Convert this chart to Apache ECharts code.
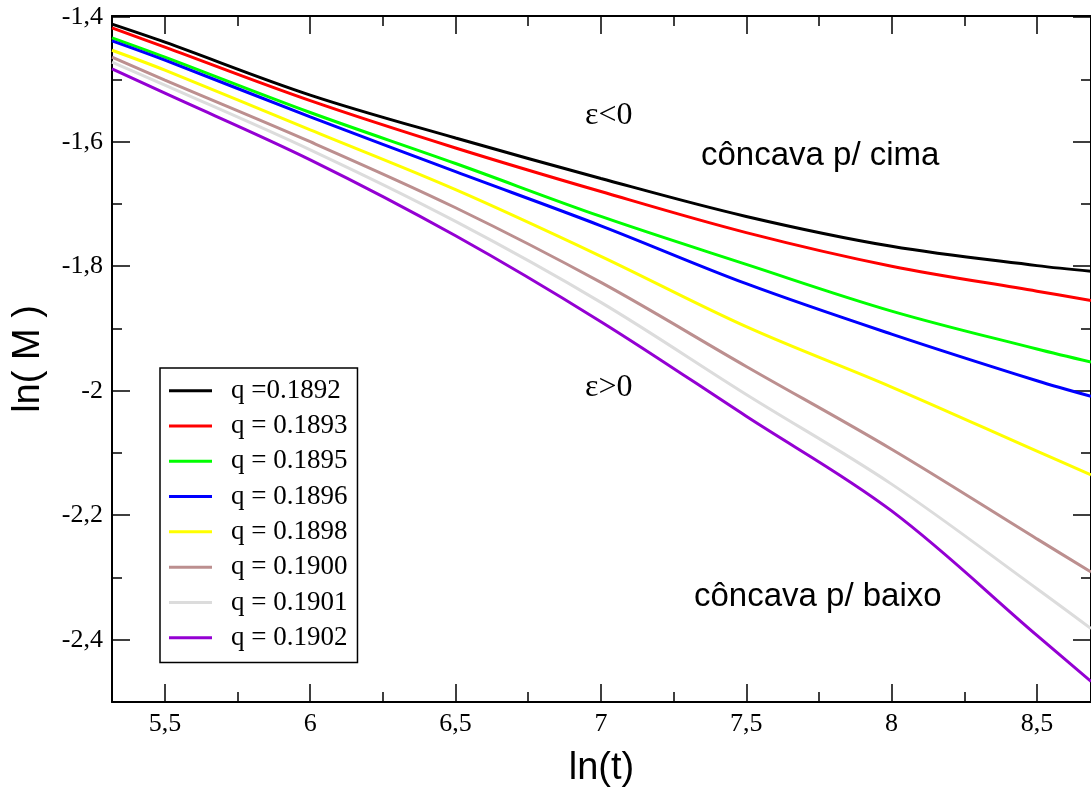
<!DOCTYPE html>
<html>
<head>
<meta charset="utf-8">
<script src="https://cdn.jsdelivr.net/npm/echarts@6/dist/echarts.min.js"></script>
<style>html,body{margin:0;padding:0;background:#fff;}#c{width:1091px;height:793px;}</style>
</head>
<body>
<div id="c"></div>
<script>
// ---- data ----
var lnT = [5.318, 5.5, 6, 6.5, 7, 7.5, 8, 8.5, 8.686];
var q1892 = [-1.411, -1.440, -1.525, -1.594, -1.659, -1.720, -1.768, -1.799, -1.808];
var q1893 = [-1.417, -1.448, -1.534, -1.610, -1.680, -1.746, -1.800, -1.840, -1.855];
var q1895 = [-1.433, -1.464, -1.553, -1.635, -1.720, -1.797, -1.872, -1.933, -1.954];
var q1896 = [-1.438, -1.469, -1.560, -1.648, -1.735, -1.828, -1.909, -1.984, -2.009];
var q1898 = [-1.453, -1.485, -1.581, -1.677, -1.784, -1.897, -1.994, -2.097, -2.135];
var q1900 = [-1.464, -1.501, -1.600, -1.706, -1.826, -1.961, -2.094, -2.238, -2.291];
var q1901 = [-1.472, -1.509, -1.613, -1.728, -1.858, -2.006, -2.150, -2.318, -2.382];
var q1902 = [-1.483, -1.522, -1.629, -1.751, -1.889, -2.041, -2.193, -2.393, -2.467];
var seriesNames = ['q =0.1892', 'q = 0.1893', 'q = 0.1895', 'q = 0.1896', 'q = 0.1898', 'q = 0.1900', 'q = 0.1901', 'q = 0.1902'];
var xMajor = [5.5, 6, 6.5, 7, 7.5, 8, 8.5];
var xMinor = [5.75, 6.25, 6.75, 7.25, 7.75, 8.25];
var yMajor = [-2.4, -2.2, -2, -1.8, -1.6, -1.4];
var yMinor = [-2.5, -2.3, -2.1, -1.9, -1.7, -1.5];
// ---- chart ----
var allY = [q1892, q1893, q1895, q1896, q1898, q1900, q1901, q1902];
var colors = ['#000000', '#ff0000', '#00ff00', '#0000ff', '#ffff00', '#bc8f8f', '#dcdcdc', '#9400d3'];
var XMIN = 5.318, XMAX = 8.686, YMIN = -2.5, YMAX = -1.398;
var serif = 'Liberation Serif', sans = 'Liberation Sans';
function fmt(v){ return String(v).replace('.', ','); }
function mkX(pos, vals, len, labels, line, name){
  var a = {type:'value', position:pos, min:XMIN, max:XMAX, splitLine:{show:false},
    axisLine:{show:line, onZero:false, lineStyle:{color:'#000', width:2}},
    axisTick:{show:true, inside:true, length:len, customValues:vals, lineStyle:{color:'#000', width:1.5}},
    axisLabel:{show:labels, customValues:vals, formatter:fmt, fontFamily:serif, fontSize:26, color:'#000', margin:9}};
  if(name){ a.name = name; a.nameLocation='middle'; a.nameGap=48; a.nameTextStyle={fontFamily:sans, fontSize:38, color:'#000'}; }
  return a;
}
function mkY(pos, vals, len, labels, line, name){
  var a = {type:'value', position:pos, min:YMIN, max:YMAX, splitLine:{show:false},
    axisLine:{show:line, onZero:false, lineStyle:{color:'#000', width:2}},
    axisTick:{show:true, inside:true, length:len, customValues:vals, lineStyle:{color:'#000', width:1.5}},
    axisLabel:{show:labels, customValues:vals, formatter:fmt, fontFamily:serif, fontSize:26, color:'#000', margin:9}};
  if(name){ a.name = name; a.nameLocation='middle'; a.nameGap=64; a.nameRotate=90; a.nameTextStyle={fontFamily:sans, fontSize:38, color:'#000'}; }
  return a;
}
var series = allY.map(function(ys, i){
  return {name:seriesNames[i], type:'line', xAxisIndex:0, yAxisIndex:0, symbol:'none', smooth:0.35,
    data: lnT.map(function(x, j){ return [x, ys[j]]; }),
    lineStyle:{color:colors[i], width:3}, itemStyle:{color:colors[i]}, z:2};
});
var chart = echarts.init(document.getElementById('c'), null, {renderer:'canvas'});
chart.setOption({
  animation:false,
  backgroundColor:'#fff',
  grid:{left:112, top:16, right:0, bottom:91},
  xAxis:[mkX('bottom', xMajor, 18, true, true, 'ln(t)'), mkX('bottom', xMinor, 10, false, false),
         mkX('top', xMajor, 18, false, true), mkX('top', xMinor, 10, false, false)],
  yAxis:[mkY('left', yMajor, 18, true, true, 'ln( M )'), mkY('left', yMinor, 10, false, false),
         mkY('right', yMajor, 18, false, true), mkY('right', yMinor, 10, false, false)],
  legend:{orient:'vertical', left:160, top:368, icon:'rect', itemWidth:43, itemHeight:3, itemGap:0,
    borderColor:'#000', borderWidth:1.5, borderRadius:0, padding:[5,10,7,9], backgroundColor:'#fff',
    textStyle:{fontFamily:serif, fontSize:27, color:'#000', padding:[0,0,0,14], lineHeight:35.3},
    data:seriesNames},
  graphic:[
    {type:'text', left:585, top:100, style:{text:'ε<0', font:'32px "Liberation Serif"', fill:'#000'}},
    {type:'text', left:701, top:139, style:{text:'côncava p/ cima', font:'33px "Liberation Sans"', fill:'#000'}},
    {type:'text', left:585, top:372, style:{text:'ε>0', font:'32px "Liberation Serif"', fill:'#000'}},
    {type:'text', left:694, top:580, style:{text:'côncava p/ baixo', font:'33px "Liberation Sans"', fill:'#000'}}
  ],
  series:series
});
</script>
</body>
</html>
